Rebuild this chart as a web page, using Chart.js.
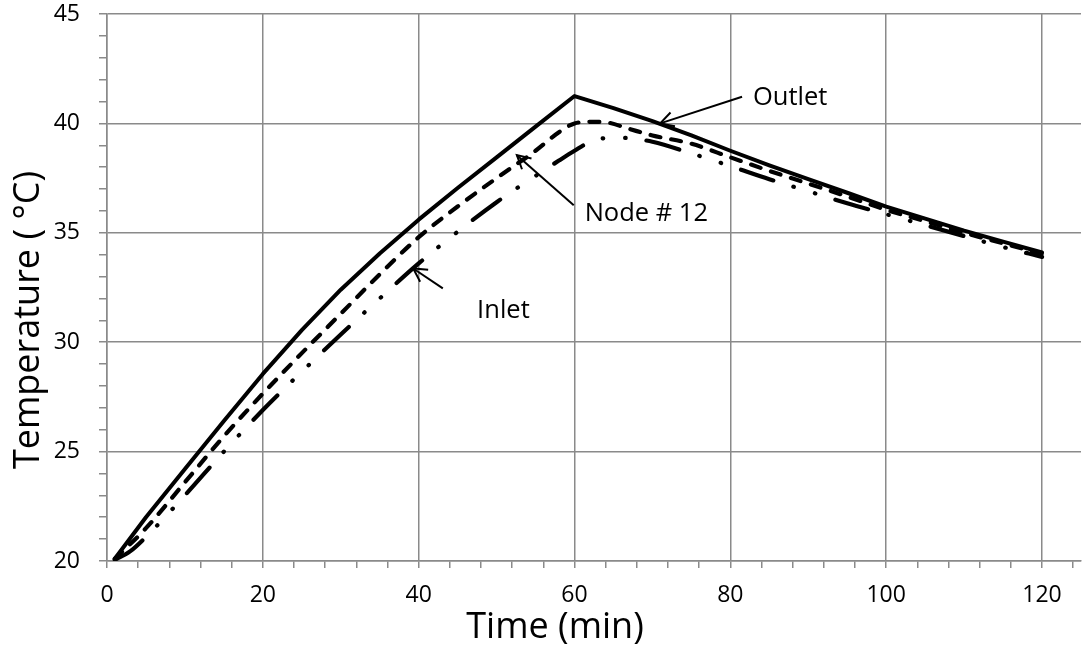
<!DOCTYPE html>
<html>
<head>
<meta charset="utf-8">
<script src="https://cdn.jsdelivr.net/npm/chart.js@4"></script>
<style>
  html, body { margin: 0; padding: 0; background: #fff; }
  #wrap { width: 1086px; height: 655px; }
</style>
</head>
<body>
<div id="wrap"><canvas id="c" width="1086" height="655"></canvas></div>
<script>
// ---- data ----
const outletTime = [1,5,10,15,20,25,30,35,40,45,50,55,60,65,70,75,80,85,90,95,100,105,110,115,120];
const outletTemp = [20.1,22.0,24.2,26.4,28.55,30.55,32.4,34.05,35.6,37.05,38.45,39.85,41.25,40.7,40.1,39.45,38.75,38.08,37.45,36.83,36.2,35.65,35.1,34.6,34.1];

const nodeTime = [1,5,10,15,20,25,30,35,40,45,50,55,58,60,62,64,67,70,75,80,85,90,95,100,105,110,115,120];
const nodeTemp = [20.1,21.5,23.6,25.7,27.65,29.5,31.3,33.1,34.8,36.2,37.5,38.75,39.6,40.0,40.07,40.05,39.75,39.45,39.07,38.45,37.83,37.25,36.66,36.05,35.53,35.0,34.52,34.03];

const inletTime = [1,3,5,10,15,20,25,30,35,40,45,50,55,58,60,62,65,68,70,75,80,85,90,95,100,105,110,115,120];
const inletTemp = [20.05,20.45,21.1,23.0,25.0,26.9,28.65,30.35,32.0,33.6,35.05,36.4,37.6,38.3,38.75,39.15,39.36,39.28,39.16,38.63,38.05,37.45,36.9,36.35,35.85,35.35,34.85,34.35,33.9];

const xTickLabels = [0,20,40,60,80,100,120];
const yTickLabels = [20,25,30,35,40,45];

const seriesNames = ['Outlet','Node # 12','Inlet'];

// annotation labels with arrows (data coordinates)
const notes = [
  {text:'Outlet',    tx:82.9, ty:41.16, x1:81.5, y1:41.22, x2:71.0, y2:40.0},
  {text:'Node # 12', tx:61.3, ty:35.88, x1:59.9, y1:36.26, x2:52.6, y2:38.55},
  {text:'Inlet',     tx:47.5, ty:31.46, x1:43.1, y1:32.46, x2:39.3, y2:33.37}
];

const FONT = "'Open Sans', 'Liberation Sans', sans-serif";
const GRID = '#8a8a8a';

function pts(xs, ys){ return xs.map((x,i)=>({x:x, y:ys[i]})); }

const annotPlugin = {
  id:'annot',
  afterDatasetsDraw(chart){
    const ctx = chart.ctx, xs = chart.scales.x, ys = chart.scales.y;
    ctx.save();
    ctx.fillStyle = '#000';
    ctx.strokeStyle = '#000';
    ctx.lineWidth = 2;
    ctx.font = "25.5px " + FONT;
    ctx.textAlign = 'left';
    ctx.textBaseline = 'middle';
    notes.forEach(n=>{
      ctx.fillText(n.text, xs.getPixelForValue(n.tx), ys.getPixelForValue(n.ty));
      const ax = xs.getPixelForValue(n.x1), ay = ys.getPixelForValue(n.y1);
      const bx = xs.getPixelForValue(n.x2), by = ys.getPixelForValue(n.y2);
      ctx.beginPath(); ctx.moveTo(ax,ay); ctx.lineTo(bx,by); ctx.stroke();
      const ang = Math.atan2(by-ay, bx-ax), L = 15, w = 0.5;
      ctx.beginPath();
      ctx.moveTo(bx - L*Math.cos(ang-w), by - L*Math.sin(ang-w));
      ctx.lineTo(bx,by);
      ctx.lineTo(bx - L*Math.cos(ang+w), by - L*Math.sin(ang+w));
      ctx.stroke();
    });
    ctx.restore();
  },
  afterDraw(chart){
    const ctx = chart.ctx;
    ctx.save();
    ctx.fillStyle = '#000';
    ctx.font = "36px " + FONT;
    ctx.textAlign = 'center';
    ctx.textBaseline = 'middle';
    ctx.fillText('Time (min)', 555, 628);
    ctx.translate(29, 320);
    ctx.rotate(-Math.PI/2);
    ctx.fillText('Temperature ( \u00B0C)', 0, 0);
    ctx.restore();
  }
};

new Chart(document.getElementById('c'), {
  type:'line',
  data:{
    datasets:[
      {label:seriesNames[0], data:pts(outletTime,outletTemp), borderColor:'#000', borderWidth:4,
       pointRadius:0, tension:0, borderCapStyle:'round', borderJoinStyle:'round', fill:false},
      {label:seriesNames[1], data:pts(nodeTime,nodeTemp), borderColor:'#000', borderWidth:4.2,
       pointRadius:0, cubicInterpolationMode:'monotone', borderDash:[10,11], borderCapStyle:'round', borderJoinStyle:'round', fill:false},
      {label:seriesNames[2], data:pts(inletTime,inletTemp), borderColor:'#000', borderWidth:4.2,
       pointRadius:0, cubicInterpolationMode:'monotone', borderDash:[34,21,0.5,22,0.5,21], borderCapStyle:'round', borderJoinStyle:'round', fill:false}
    ]
  },
  options:{
    responsive:false,
    animation:false,
    devicePixelRatio:1,
    layout:{padding:{left:0, top:14, right:5, bottom:0}},
    plugins:{legend:{display:false}, tooltip:{enabled:false}},
    scales:{
      x:{
        type:'linear', min:0, max:125,
        afterFit(s){ s.height = 94; s.paddingLeft = 0; s.paddingRight = 0; },
        border:{display:true, color:GRID, width:1.5},
        grid:{
          color:(c)=> (c.tick && xTickLabels.includes(c.tick.value)) ? GRID : 'rgba(0,0,0,0)',
          lineWidth:1.5, tickColor:GRID, tickLength:7, drawTicks:true
        },
        ticks:{
          stepSize:4, includeBounds:false, autoSkip:false, maxRotation:0,
          padding:14, color:'#000', font:{family:FONT, size:23},
          callback:(v)=> xTickLabels.includes(v) ? String(v) : ''
        }
      },
      y:{
        type:'linear', min:20, max:45,
        afterFit(s){ s.width = 107; s.paddingTop = 0; s.paddingBottom = 0; },
        border:{display:true, color:GRID, width:1.5},
        grid:{
          color:(c)=> (c.tick && yTickLabels.includes(c.tick.value)) ? GRID : 'rgba(0,0,0,0)',
          lineWidth:1.5, tickColor:GRID, tickLength:8, drawTicks:true
        },
        ticks:{
          stepSize:1, includeBounds:false, autoSkip:false,
          padding:19, color:'#000', font:{family:FONT, size:23},
          callback:(v)=> yTickLabels.includes(v) ? String(v) : ''
        }
      }
    }
  },
  plugins:[annotPlugin]
});
</script>
</body>
</html>
